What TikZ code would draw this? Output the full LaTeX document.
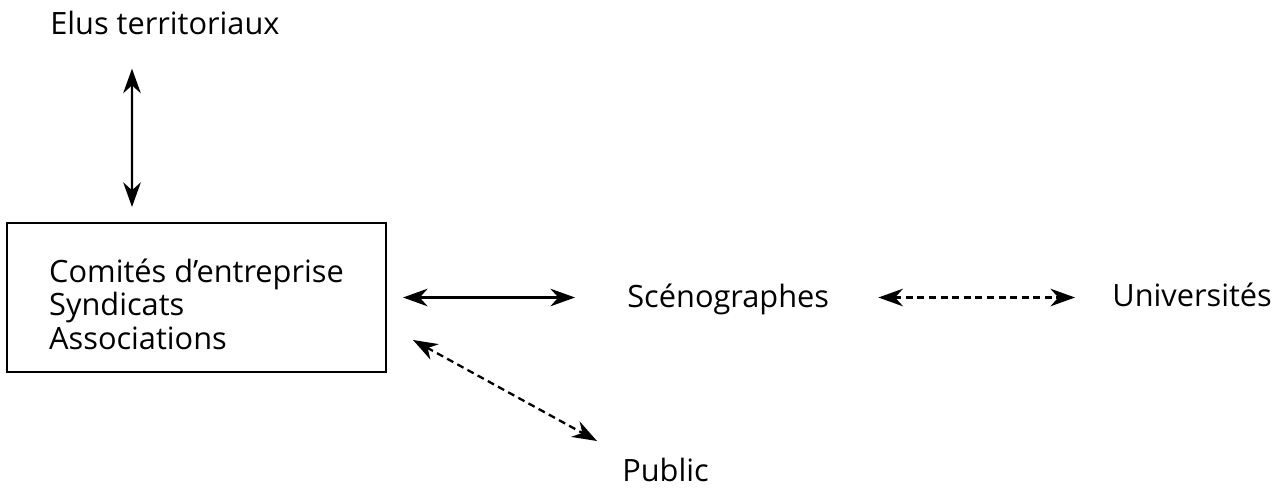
\documentclass[tikz,border=0pt]{standalone}
\usepackage{fontspec}
\setmainfont{Open Sans}
\usetikzlibrary{arrows.meta}

\tikzset{
  label text/.style={font=\fontsize{17.5}{19}\selectfont},
  dashline/.style={dash pattern=on 4pt off 2.6pt},
}

\begin{document}
\begin{tikzpicture}[x=0.02cm,y=-0.02cm]
  \useasboundingbox (0,0) rectangle (1277,487);
  \begin{scope}[every node/.style={label text, inner sep=0pt, anchor=base west}]
    \node (elus) at (50,34) {Elus territoriaux};
    \node (scen) at (627,307) {Scénographes};
    \node (univ) at (1112,306) {Universités};
    \node (public) at (622,481) {Public};
  \end{scope}
  \node[label text, draw, line width=1.2pt, minimum width=7.58cm, minimum height=2.98cm,
        align=left] (box) at (196.5,297.5) {\rule{0pt}{21pt}Comités d’entreprise\\Syndicats\\Associations};
  \begin{scope}[>={Stealth[length=14pt,width=10pt,inset=4.5pt]},
      every edge/.style={draw, line width=1.3pt, <->}]
    \path ([xshift=1.64cm]elus.south west) edge[shorten <=0.68cm, shorten >=0.30cm] ([xshift=-1.29cm]box.north);
    \path (box.east) edge[shorten <=0.32cm, shorten >=1.04cm] (box.east -| scen.west);
    \path (box.east -| scen.east) edge[dashline, shorten <=0.98cm, shorten >=0.74cm] (box.east -| univ.west);
    \path ([shift={(26,42.5)}]box.east) edge[dashline] ([shift={(-25,-40)}]public.base west);
  \end{scope}
\end{tikzpicture}
\end{document}
